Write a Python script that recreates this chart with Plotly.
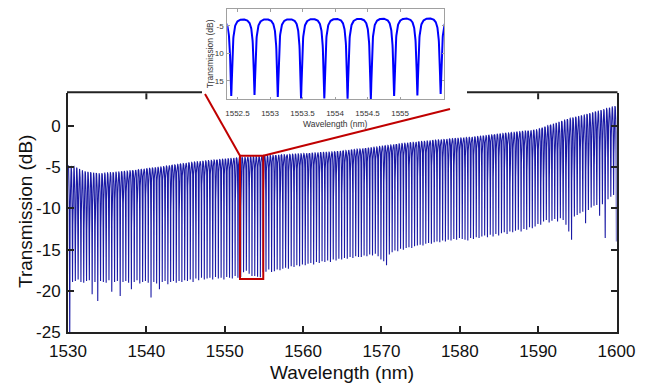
import numpy as np
import plotly.graph_objects as go

W, H = 647, 384

# ---------------- data ----------------
fsr_nm = 0.3578            # free spectral range of the comb of resonances
first_dip_nm = 1530.22     # first resonance inside the window

# minimum transmission of each resonance (dB), left to right
dip_min_db = [
    -27.0, -18.9, -18.8, -18.6, -18.9, -19.0, -18.8, -18.7, -20.4, -18.9,
    -21.2, -18.8, -18.9, -19.0, -18.7, -20.1, -18.9, -18.8, -20.6, -18.9,
    -18.8, -19.0, -19.8, -18.9, -18.7, -19.1, -18.9, -18.8, -19.0, -20.8,
    -18.9, -19.1, -19.8, -18.9, -18.8, -19.2, -18.9, -18.8, -19.0, -18.8,
    -18.9, -18.7, -18.8, -18.6, -18.9, -18.5, -18.7, -18.4, -18.6, -18.5,
    -18.4, -18.6, -18.3, -18.5, -18.4, -18.6, -18.3, -18.4, -18.5, -18.2,
    -18.4, -18.3, -17.73, -17.55, -17.91, -18.2, -18.2, -18.27, -18.33, -17.73,
    -17.67, -17.4, -17.7, -17.6, -17.4, -17.5, -17.3, -17.2, -17.3, -17.0,
    -17.1, -16.9, -17.0, -16.8, -16.9, -16.7, -16.6, -16.8, -16.5, -16.6,
    -16.4, -16.5, -16.3, -16.5, -16.2, -16.3, -16.1, -16.2, -16.0, -16.1,
    -15.9, -16.0, -15.8, -15.9, -15.9, -15.7, -15.8, -15.6, -15.7, -15.5,
    -15.8, -16.2, -16.4, -16.9, -15.6, -15.3, -15.1, -15.2, -14.9, -15.0,
    -14.8, -14.7, -14.8, -14.6, -14.5, -14.4, -14.5, -14.3, -14.2, -14.3,
    -14.1, -14.0, -14.1, -13.9, -14.0, -13.8, -13.9, -13.7, -13.8, -13.6,
    -13.7, -13.8, -13.9, -13.6, -13.7, -13.5, -13.6, -13.4, -13.3, -13.5,
    -13.2, -13.4, -13.1, -13.3, -13.0, -12.9, -13.1, -12.8, -12.9, -12.7,
    -12.6, -12.8, -12.5, -12.6, -12.3, -12.4, -12.2, -11.9, -12.0, -11.6,
    -11.4, -11.7, -11.5, -11.3, -11.6, -11.2, -11.4, -12.0, -12.8, -13.8,
    -11.0, -10.8, -10.6, -10.4, -11.8, -10.2, -9.9, -9.7, -9.6, -10.9,
    -9.5, -13.6, -8.9, -8.6, -8.4, -14.0,
]

# off-resonance (upper envelope) transmission, dB
env_wl = [1530, 1531, 1532, 1534, 1537.5, 1541.7, 1546, 1552, 1555, 1564,
          1568.3, 1572.6, 1576.8, 1581.9, 1585.5, 1589.8, 1591.5, 1594.1,
          1596.2, 1599.2, 1600]
env_top_db = [-4.8, -5.0, -5.5, -5.8, -5.5, -5.0, -4.4, -3.85, -3.65, -3.15,
              -2.7, -2.15, -1.75, -1.35, -0.95, -0.5, 0.1, 0.9,
              1.4, 2.2, 2.4]

# coefficient of finesse of the resonances along the band
finesse_wl = [1530, 1532, 1534, 1536, 1538, 1540, 1586, 1590, 1593, 1600]
finesse_val = [0.5, 1.0, 2.0, 3.5, 5.5, 8.0, 8.0, 4.0, 2.5, 2.0]

x_ticks = [1530, 1540, 1550, 1560, 1570, 1580, 1590, 1600]
y_ticks = [-25, -20, -15, -10, -5, 0]
inset_x_ticks = [1552.5, 1553, 1553.5, 1554, 1554.5, 1555]
inset_y_ticks = [-15, -10, -5]
top_tick_visible = [1540, 1590]

zoom_box_wl = [1551.95, 1554.92]
zoom_box_db = [-18.56, -3.63]

x_range = [1530, 1600]
y_range = [-25, 3.92]
inset_x_range = [1552.343, 1555.68]
inset_y_range = [-18.3, -1.96]

# ---------------- spectrum (normalised Airy line shape) ----------------
dmin = np.array(dip_min_db)
n = len(dmin)
centers = first_dip_nm + fsr_nm * np.arange(n)
t = np.linspace(-1, 1, 121)[:-1]
u = 0.5 * np.sign(t) * np.abs(t) ** 1.5
wl = (centers[:, None] + fsr_nm * u[None, :]).ravel()
top = np.interp(wl, env_wl, env_top_db)
top_c = np.interp(centers, env_wl, env_top_db)
F = np.interp(centers, finesse_wl, finesse_val)[:, None]
m = (10 ** ((dmin - top_c) / 10))[:, None]
D = (1 - m) / (1 - m / (1 + F))
s = (1 - D / (1 + F * np.sin(np.pi * u[None, :]) ** 2)) / (1 - D / (1 + F))
trans = top + 10 * np.log10(s.ravel())

mask = (wl > inset_x_range[0] - 0.2) & (wl < inset_x_range[1] + 0.2)

# ---------------- layout geometry (pixels) ----------------
MX0, MX1, MY0, MY1 = 68.0, 616.5, 93.3, 332.3
IX0, IX1, IY0, IY1 = 227.3, 444.3, 9.3, 99.0

def px(x):
    return x / W

def py(y):
    return 1 - y / H

def main_to_px(w, d):
    x = MX0 + (w - x_range[0]) / (x_range[1] - x_range[0]) * (MX1 - MX0)
    y = MY1 - (d - y_range[0]) / (y_range[1] - y_range[0]) * (MY1 - MY0)
    return x, y

FONT = "Liberation Sans, Arial, sans-serif"
AX = "#222222"
RED = "#c00000"

fig = go.Figure()
fig.add_trace(go.Scatter(x=wl, y=trans, mode="lines",
                         line=dict(color="rgb(26,26,165)", width=1.1),
                         hoverinfo="skip", xaxis="x", yaxis="y"))
fig.add_trace(go.Scatter(x=wl[mask], y=trans[mask], mode="lines",
                         line=dict(color="#0000ff", width=2.0),
                         hoverinfo="skip", xaxis="x2", yaxis="y2"))

shapes = []
shapes.append(dict(type="rect", xref="x", yref="y",
                   x0=zoom_box_wl[0], x1=zoom_box_wl[1],
                   y0=zoom_box_db[0], y1=zoom_box_db[1],
                   line=dict(color=RED, width=2), layer="above"))
bl = main_to_px(zoom_box_wl[0], zoom_box_db[1])
br = main_to_px(zoom_box_wl[1], zoom_box_db[1])
shapes.append(dict(type="line", xref="paper", yref="paper",
                   x0=px(bl[0]), y0=py(bl[1]), x1=px(205), y1=py(94),
                   line=dict(color=RED, width=2), layer="above"))
shapes.append(dict(type="line", xref="paper", yref="paper",
                   x0=px(br[0]), y0=py(br[1]), x1=px(450), y1=py(109),
                   line=dict(color=RED, width=2), layer="above"))
for a, b in [(MX0 - 1, 202), (467, MX1 + 1)]:
    shapes.append(dict(type="line", xref="paper", yref="paper",
                       x0=px(a), y0=py(MY0 - 1), x1=px(b), y1=py(MY0 - 1),
                       line=dict(color=AX, width=2), layer="above"))
for v in top_tick_visible:
    shapes.append(dict(type="line", xref="x", yref="paper",
                       x0=v, x1=v, y0=py(MY0), y1=py(MY0 + 6),
                       line=dict(color=AX, width=2), layer="above"))

annotations = [
    dict(text="Wavelength (nm)", x=px((MX0 + MX1) / 2), y=py(372),
         xref="paper", yref="paper", showarrow=False,
         xanchor="center", yanchor="middle",
         font=dict(family=FONT, size=19, color="#111111")),
    dict(text="Transmission (dB)", x=px(25), y=py(212), textangle=-90,
         xref="paper", yref="paper", showarrow=False,
         xanchor="center", yanchor="middle",
         font=dict(family=FONT, size=19, color="#111111")),
    dict(text="Wavelength (nm)", x=px((IX0 + IX1) / 2), y=py(124),
         xref="paper", yref="paper", showarrow=False,
         xanchor="center", yanchor="middle",
         font=dict(family=FONT, size=8.5, color="#333333")),
    dict(text="Transmission (dB)", x=px(210), y=py((IY0 + IY1) / 2),
         textangle=-90, xref="paper", yref="paper", showarrow=False,
         xanchor="center", yanchor="middle",
         font=dict(family=FONT, size=8.5, color="#333333")),
]

common = dict(showgrid=False, zeroline=False, automargin=False)
fig.update_layout(
    template="none",
    width=W, height=H,
    margin=dict(l=0, r=0, t=0, b=0, pad=0, autoexpand=False),
    paper_bgcolor="white", plot_bgcolor="white",
    showlegend=False,
    shapes=shapes,
    annotations=annotations,
    xaxis=dict(domain=[px(MX0), px(MX1)], range=x_range, anchor="y",
               showline=True, linecolor=AX, linewidth=2, mirror=False,
               ticks="inside", ticklen=6, tickwidth=2, tickcolor=AX,
               tickvals=x_ticks, ticktext=[str(v) for v in x_ticks],
               ticklabelstandoff=2,
               tickfont=dict(family=FONT, size=17, color="#111111"), **common),
    yaxis=dict(domain=[py(MY1), py(MY0)], range=y_range, anchor="x",
               showline=True, linecolor=AX, linewidth=2, mirror="ticks",
               ticks="inside", ticklen=6, tickwidth=2, tickcolor=AX,
               tickvals=y_ticks, ticktext=[str(v) for v in y_ticks],
               ticklabelstandoff=2,
               tickfont=dict(family=FONT, size=17, color="#111111"), **common),
    xaxis2=dict(domain=[px(IX0), px(IX1)], range=inset_x_range, anchor="y2",
                showline=True, linecolor="#a0a0a0", linewidth=1, mirror="ticks",
                ticks="inside", ticklen=2.5, tickwidth=1, tickcolor="#a0a0a0",
                tickvals=inset_x_ticks, ticktext=[f"{v:g}" for v in inset_x_ticks],
                ticklabelstandoff=6,
                tickfont=dict(family=FONT, size=8, color="#333333"), **common),
    yaxis2=dict(domain=[py(IY1), py(IY0)], range=inset_y_range, anchor="x2",
                showline=True, linecolor="#a0a0a0", linewidth=1, mirror="ticks",
                ticks="inside", ticklen=2.5, tickwidth=1, tickcolor="#a0a0a0",
                tickvals=inset_y_ticks, ticktext=[str(v) for v in inset_y_ticks],
                ticklabelstandoff=1,
                tickfont=dict(family=FONT, size=8, color="#333333"), **common),
)

fig.write_html("out.html")
